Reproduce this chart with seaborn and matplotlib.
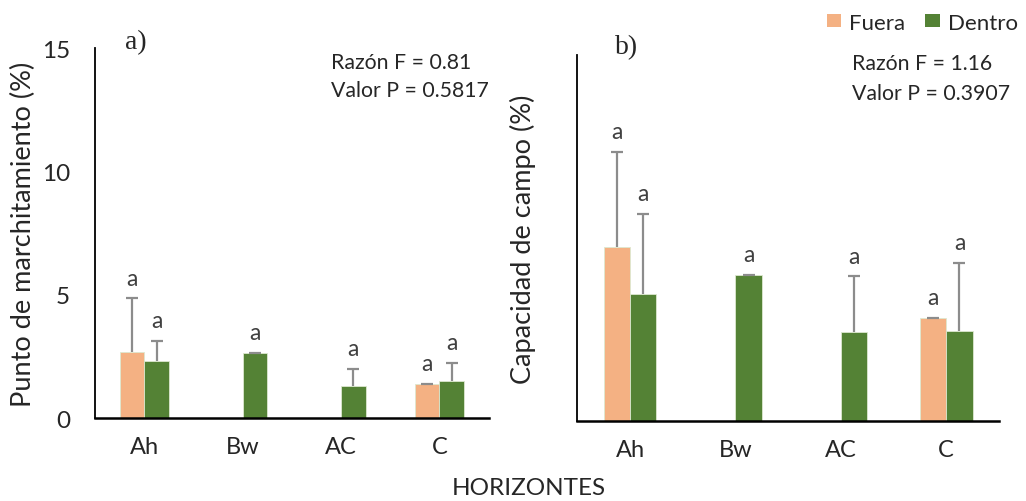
import numpy as np
import pandas as pd
import matplotlib
matplotlib.use("Agg")
import matplotlib.pyplot as plt
import seaborn as sns
from matplotlib.patches import Patch

# Soil horizons and treatments
horizontes = ["Ah", "Bw", "AC", "C"]
tratamientos = ["Fuera", "Dentro"]

# a) Wilting point (%): means and standard deviations per horizon
pm_fuera = [2.70, np.nan, np.nan, 1.38]
pm_dentro = [2.32, 2.63, 1.30, 1.50]
pm_fuera_sd = [2.16, np.nan, np.nan, 0.03]
pm_dentro_sd = [0.83, 0.03, 0.69, 0.75]

# b) Field capacity (%): means and standard deviations per horizon
cc_fuera = [14.26, np.nan, np.nan, 8.45]
cc_dentro = [10.39, 11.95, 7.31, 7.42]
cc_fuera_sd = [7.80, np.nan, np.nan, 0.05]
cc_dentro_sd = [6.60, 0.05, 4.55, 5.54]

# Tukey grouping letters
letras_a = [["a", None, None, "a"], ["a", "a", "a", "a"]]
letras_b = [["a", None, None, "a"], ["a", "a", "a", "a"]]

stats_a = ["Razón F = 0.81", "Valor P = 0.5817"]
stats_b = ["Razón F = 1.16", "Valor P = 0.3907"]

colores = {"Fuera": "#F4B183", "Dentro": "#548235"}

sns.set_theme(style="white")
plt.rcParams["font.family"] = ["Lato", "DejaVu Sans"]


def tabla(fuera, dentro):
    return pd.DataFrame({
        "horizonte": horizontes * 2,
        "tratamiento": ["Fuera"] * 4 + ["Dentro"] * 4,
        "valor": list(fuera) + list(dentro),
    })


def panel(ax, fuera, dentro, sd_f, sd_d, letras, ylim, yticks, show_labels,
          ylabel, ylabel_x, tag, tag_xy, stats, stats_x, stats_y):
    df = tabla(fuera, dentro)
    sns.barplot(data=df, x="horizonte", y="valor", hue="tratamiento",
                order=horizontes, hue_order=tratamientos, palette=colores,
                width=0.5, errorbar=None, ax=ax, legend=False,
                edgecolor="#DDE8D0", linewidth=0.6, saturation=1)
    offsets = {"Fuera": -0.125, "Dentro": 0.125}
    for k, (trat, vals, sds) in enumerate([("Fuera", fuera, sd_f), ("Dentro", dentro, sd_d)]):
        for i, (v, s) in enumerate(zip(vals, sds)):
            if np.isnan(v):
                continue
            x = i + offsets[trat]
            _, caps, _ = ax.errorbar(x, v, yerr=[[0], [s]], fmt="none", ecolor="#8C8C8C",
                                     elinewidth=1.6, capsize=4, capthick=1.6, zorder=3)
            # keep only the upper cap
            for c in caps:
                if np.isclose(c.get_ydata()[0], v):
                    c.set_visible(False)
            lab = letras[k][i]
            if lab:
                ax.annotate(lab, (x, v + s), xytext=(0, 10), textcoords="offset points",
                            ha="center", va="baseline", fontsize=16.5, color="#404040")
    ax.set_ylim(*ylim)
    ax.set_xlim(-0.5, 3.5)
    ax.set_yticks(yticks)
    if show_labels:
        ax.set_yticklabels([str(t) for t in yticks], fontsize=17.5)
    else:
        ax.set_yticklabels([])
    ax.set_xticks(range(4))
    ax.set_xticklabels(horizontes, fontsize=17)
    ax.set_xticks([-0.5, 0.5, 1.5, 2.5, 3.5], minor=True)
    ax.tick_params(axis="x", which="major", length=0, pad=13)
    ax.tick_params(axis="x", which="minor", length=7, width=1.5, color="black", direction="out")
    ax.tick_params(axis="y", length=7, width=1.2, color="black", direction="out", pad=11)
    for side in ("top", "right"):
        ax.spines[side].set_visible(False)
    for side in ("left", "bottom"):
        ax.spines[side].set_color("black")
    ax.spines["left"].set_linewidth(1.3)
    ax.spines["bottom"].set_linewidth(1.8)
    ax.set_xlabel("")
    ax.set_ylabel(ylabel, fontsize=19.5)
    ax.yaxis.set_label_coords(ylabel_x, 0.5)
    ax.text(tag_xy[0], tag_xy[1], tag, transform=ax.transAxes, fontsize=20,
            family="Liberation Serif", ha="left", va="center")
    for line, yy in zip(stats, stats_y):
        ax.text(stats_x, yy, line, transform=ax.transAxes,
                fontsize=15.3, ha="left", va="center", color="#262626")


fig = plt.figure(figsize=(10.26, 5.02), dpi=100)
ax1 = fig.add_axes([0.0926, 0.1647, 0.3837, 0.7371])
ax2 = fig.add_axes([0.5627, 0.1588, 0.4110, 0.7296])

panel(ax1, pm_fuera, pm_dentro, pm_fuera_sd, pm_dentro_sd, letras_a,
      (0, 15), [0, 5, 10, 15], True, "Punto de marchitamiento (%)", -0.150,
      "a)", (0.075, 1.017), stats_a, 0.600, (0.963, 0.887))
panel(ax2, cc_fuera, cc_dentro, cc_fuera_sd, cc_dentro_sd, letras_b,
      (0, 30), [0, 10, 20, 30], False, "Capacidad de campo (%)", -0.099,
      "b)", (0.089, 1.022), stats_b, 0.651, (0.978, 0.896))

fig.text(0.515, 0.026, "HORIZONTES", fontsize=17.5, ha="center", va="center")

handles = [Patch(facecolor=colores[t], edgecolor="none", label=t) for t in tratamientos]
fig.legend(handles=handles, loc="upper right", bbox_to_anchor=(1.008, 1.006), ncol=2,
           frameon=False, fontsize=16, handlelength=0.65, handleheight=0.55,
           handletextpad=0.35, columnspacing=0.9, borderaxespad=0.35)

fig.savefig("out.png", dpi=100, facecolor="white")
